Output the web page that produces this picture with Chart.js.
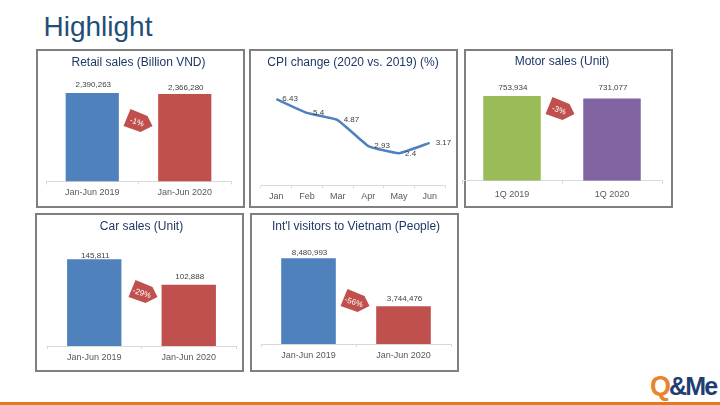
<!DOCTYPE html>
<html><head><meta charset="utf-8">
<style>
html,body{margin:0;padding:0;background:#fff;}
#stage{position:relative;width:720px;height:405px;overflow:hidden;font-family:"Liberation Sans",Arial,sans-serif;}
#stage div,#stage canvas,#stage svg{position:absolute;}
.panel{box-sizing:border-box;border:2px solid #7f7f7f;}
#head{left:43.5px;top:10px;font-size:28px;line-height:34px;color:#1f4e79;}
#bar{left:0;top:402px;width:720px;height:3px;background:#e8781e;}
#logo{left:650px;top:371px;font-size:25px;line-height:31px;font-weight:bold;letter-spacing:-1.9px;color:#1f3f73;white-space:nowrap;}
#logo span{color:#e8832e;font-size:27px;}
</style></head><body>
<div id="stage">
  <div id="head">Highlight</div>
  <div id="bar"></div>
  <div id="logo"><span>Q</span>&amp;Me</div>
</div>
<script src="https://cdn.jsdelivr.net/npm/chart.js@4/dist/chart.umd.min.js"></script>
<script>
const periodLabels = ['Jan-Jun 2019','Jan-Jun 2020'];
const quarterLabels = ['1Q 2019','1Q 2020'];
const monthLabels = ['Jan','Feb','Mar','Apr','May','Jun'];
const retailSales = [2390263,2366280];
const cpiChange = [6.43,5.4,4.87,2.93,2.4,3.17];
const motorSales = [753934,731077];
const carSales = [145811,102888];
const visitors = [8480993,3744476];
const BLUE='#4f81bd',RED='#c0504d',GREEN='#9bbb59',PURPLE='#8064a2';

const panels=[
 {title:'Retail sales (Billion VND)',type:'bar',labels:periodLabels,data:retailSales,colors:[BLUE,RED],max:2880000,
  box:[36,49,209,159],canvas:[36,49,202,159],axisL:46,axisR:231,axisY:181.5,titlePad:[6.8,4.8],tickPad:3,raise:[8,6],badge:{t:'-1%',x:137.5,y:121}},
 {title:'CPI change (2020 vs. 2019) (%)',type:'line',labels:monthLabels,data:cpiChange,colors:[BLUE],max:8.23,
  box:[249,49,209,159],canvas:[250,49,208,159],axisL:261,axisR:445,axisY:185.3,titlePad:[6.8,4.8],tickPad:3},
 {title:'Motor sales (Unit)',type:'bar',labels:quarterLabels,data:motorSales,colors:[GREEN,PURPLE],max:941000,
  box:[464,49,209,159],canvas:[455,49,218,159],axisL:462,axisR:662,axisY:180.7,titlePad:[5.8,5.8],tickPad:5,raise:[8,11],badge:{t:'-3%',x:560,y:109}},
 {title:'Car sales (Unit)',type:'bar',labels:periodLabels,data:carSales,colors:[BLUE,RED],max:180060,
  box:[35,213,209,159],canvas:[36,213,210,159],axisL:47,axisR:236,axisY:346,titlePad:[6.8,4.8],tickPad:3,raise:[4,8],badge:{t:'-29%',x:142.5,y:292}},
 {title:"Int'l visitors to Vietnam (People)",type:'bar',labels:periodLabels,data:visitors,colors:[BLUE,RED],max:10396000,
  box:[250,213,209,159],canvas:[252,213,206,159],axisL:261,axisR:451,axisY:344,titlePad:[6.8,4.8],tickPad:3,raise:[6,7],badge:{t:'-56%',x:354.5,y:301}}
];

const fmt=v=>v.toLocaleString('en-US');
const valueLabels={id:'valueLabels',afterDatasetsDraw(c,a,o){
  const g=c.ctx,p=o.panel,pts=c.getDatasetMeta(0).data;
  g.save();g.fillStyle='#404040';g.font='8px "Liberation Sans"';g.textBaseline='middle';
  pts.forEach((e,i)=>{
    const v=p.data[i];
    if(p.type==='line'){g.textAlign='left';g.fillText(String(v),e.x+6,e.y+(i===4?1:0));}
    else{g.textAlign='center';g.fillText(fmt(v),e.x+1,e.y-p.raise[i]);}
  });
  g.restore();
}};

const stage=document.getElementById('stage');
panels.forEach(p=>{
  const b=document.createElement('div');b.className='panel';
  b.style.cssText=`left:${p.box[0]}px;top:${p.box[1]}px;width:${p.box[2]}px;height:${p.box[3]}px`;
  stage.appendChild(b);
});
panels.forEach(p=>{
  const [cx,cy,cw,ch]=p.canvas;
  const cv=document.createElement('canvas');cv.width=cw;cv.height=ch;
  cv.style.cssText=`left:${cx}px;top:${cy}px;width:${cw}px;height:${ch}px`;
  stage.appendChild(cv);
  const ds=p.type==='bar'
   ?{data:p.data,backgroundColor:p.colors,barPercentage:0.575,categoryPercentage:1}
   :{data:p.data,borderColor:p.colors[0],borderWidth:2.5,pointRadius:0,tension:0.12,fill:false};
  new Chart(cv,{type:p.type,data:{labels:p.labels,datasets:[ds]},plugins:[valueLabels],options:{
    responsive:false,animation:false,devicePixelRatio:1,
    layout:{padding:{left:p.axisL-cx,right:cx+cw-p.axisR,top:0,bottom:0}},
    plugins:{legend:{display:false},tooltip:{enabled:false},
      title:{display:true,text:p.title,color:'#1f3864',font:{family:'"Liberation Sans"',size:12,weight:'normal',lineHeight:1.2},padding:{top:p.titlePad[0],bottom:p.titlePad[1]}},
      valueLabels:{panel:p}},
    scales:{
      y:{display:false,min:0,max:p.max},
      x:{offset:true,
         grid:{offset:true,drawOnChartArea:false,drawTicks:true,tickLength:3,color:'#d9d9d9'},
         border:{display:true,color:'#d9d9d9'},
         ticks:{color:'#595959',font:{family:'"Liberation Sans"',size:9},padding:p.tickPad,maxRotation:0,autoSkip:false},
         afterFit(s){s.height=cy+ch-p.axisY;}}
    }}});
  if(p.badge){
    const B=p.badge,s=document.createElementNS('http://www.w3.org/2000/svg','svg');
    s.setAttribute('width',40);s.setAttribute('height',40);
    s.style.left=(B.x-20)+'px';s.style.top=(B.y-20)+'px';
    s.innerHTML=`<polygon points="12.5,8 29.5,15 34.5,25 22.5,31 5.5,25" fill="${RED}"/>`+
      `<text x="19" y="21.5" transform="rotate(18 19 21)" text-anchor="middle" dominant-baseline="middle" fill="#fff" font-size="8" font-family="Liberation Sans">${B.t}</text>`;
    stage.appendChild(s);
  }
});
</script>
</body></html>
